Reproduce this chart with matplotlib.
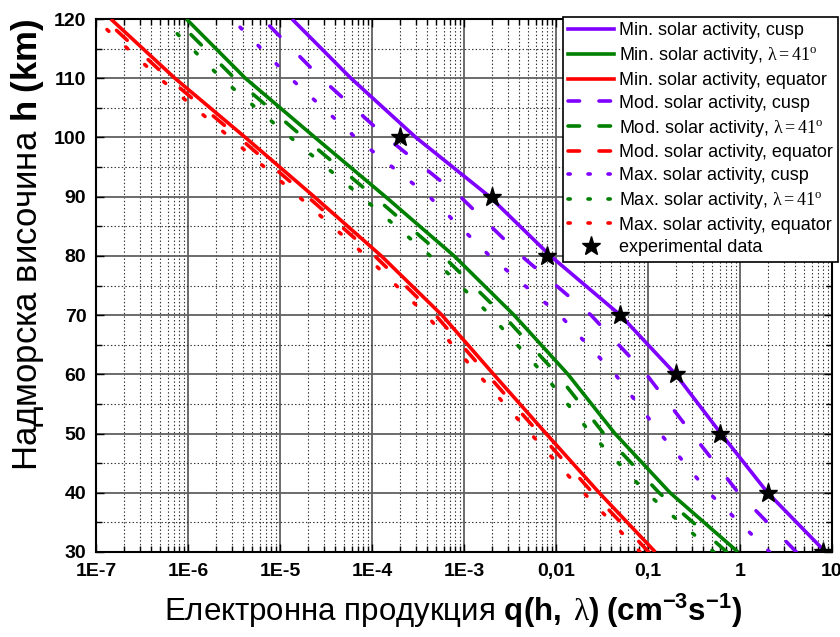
import matplotlib
matplotlib.use('Agg')
import matplotlib.pyplot as plt
from matplotlib.lines import Line2D
from matplotlib.ticker import MultipleLocator, LogLocator, NullFormatter

plt.rcParams['font.family'] = ['Liberation Sans', 'DejaVu Sans']
plt.rcParams['mathtext.fontset'] = 'custom'
plt.rcParams['mathtext.rm'] = 'Liberation Serif'
plt.rcParams['mathtext.it'] = 'Liberation Serif:italic'
plt.rcParams['mathtext.bf'] = 'Liberation Sans:bold'
plt.rcParams['mathtext.sf'] = 'Liberation Sans'
plt.rcParams['lines.scale_dashes'] = False

# ---------------- data ----------------
heights = [30, 40, 50, 60, 70, 80, 90, 100, 110, 120]

min_cusp = [8.5, 2.0, 0.62, 0.20, 0.050, 8.7e-3, 1.9e-3, 3.0e-4, 5.9e-5, 1.35e-5]
min_lat41 = [0.95, 0.174, 0.0437, 0.0135, 3.5e-3, 7.8e-4, 1.4e-4, 2.4e-5, 4.2e-6, 9.6e-7]
min_equator = [0.12, 0.0295, 7.8e-3, 2.1e-3, 5.75e-4, 1.26e-4, 2.35e-5, 4.2e-6, 7.2e-7, 1.45e-7]

mod_cusp = [4.1, 0.96, 0.30, 0.096, 0.024, 4.2e-3, 9.1e-4, 1.44e-4, 2.8e-5, 6.5e-6]
mod_lat41 = [0.72, 0.132, 0.033, 0.0103, 2.66e-3, 5.9e-4, 1.06e-4, 1.8e-5, 3.2e-6, 7.3e-7]
mod_equator = [0.102, 0.025, 6.6e-3, 1.79e-3, 4.9e-4, 1.07e-4, 2.0e-5, 3.57e-6, 6.1e-7, 1.23e-7]

max_cusp = [2.1, 0.46, 0.136, 0.044, 0.011, 1.9e-3, 4.2e-4, 6.6e-5, 1.3e-5, 3.0e-6]
max_lat41 = [0.52, 0.096, 0.024, 7.4e-3, 1.93e-3, 4.3e-4, 7.7e-5, 1.3e-5, 2.3e-6, 5.3e-7]
max_equator = [0.082, 0.020, 5.3e-3, 1.43e-3, 3.9e-4, 8.6e-5, 1.6e-5, 2.86e-6, 4.9e-7, 9.9e-8]

exp_h = [30, 40, 50, 60, 70, 80, 90, 100]
exp_q = [8.0, 2.0, 0.6, 0.2, 0.05, 8e-3, 2e-3, 2e-4]

x_ticks = [1e-7, 1e-6, 1e-5, 1e-4, 1e-3, 1e-2, 1e-1, 1, 10]
x_ticklabels = ['1E-7', '1E-6', '1E-5', '1E-4', '1E-3', '0,01', '0,1', '1', '10']
y_ticks = [30, 40, 50, 60, 70, 80, 90, 100, 110, 120]

lam = r'$\mathrm{λ{=}41^o}$'
labels = ['Min. solar activity, cusp', 'Min. solar activity, ' + lam, 'Min. solar activity, equator',
          'Mod. solar activity, cusp', 'Mod. solar activity, ' + lam, 'Mod. solar activity, equator',
          'Max. solar activity, cusp', 'Max. solar activity, ' + lam, 'Max. solar activity, equator',
          'experimental data']

# ---------------- style ----------------
PURPLE = '#7f00ff'
GREEN = '#008000'
RED = '#ff0000'
LW = 2.6
DASH = (0, (10.5, 20.5))
DOT = (0, (1.8, 16.7))
LEG_DASH = (0, (8.3, 14.0))
LEG_DOT = (0, (1.6, 12.8))

fig = plt.figure(figsize=(8.4, 6.37), dpi=100)
ax = fig.add_axes([96 / 840, 1 - 552 / 637, (832 - 96) / 840, (552 - 19) / 637])

series = [
    (min_cusp, PURPLE, '-'), (min_lat41, GREEN, '-'), (min_equator, RED, '-'),
    (mod_cusp, PURPLE, DASH), (mod_lat41, GREEN, DASH), (mod_equator, RED, DASH),
    (max_cusp, PURPLE, DOT), (max_lat41, GREEN, DOT), (max_equator, RED, DOT),
]
for vals, col, ls in series:
    ax.plot(vals, heights, color=col, lw=LW, ls=ls, dash_capstyle='round',
            solid_capstyle='butt', zorder=3)

ax.plot(exp_q, exp_h, ls='none', marker='*', ms=14, color='black', zorder=4)

ax.set_xscale('log')
ax.set_xlim(1e-7, 10)
ax.set_ylim(30, 120)
ax.set_xticks(x_ticks)
ax.set_xticklabels(x_ticklabels)
ax.xaxis.set_minor_locator(LogLocator(base=10, subs=range(2, 10), numticks=50))
ax.xaxis.set_minor_formatter(NullFormatter())
ax.set_yticks(y_ticks)
ax.yaxis.set_minor_locator(MultipleLocator(5))

ax.set_axisbelow(True)
ax.grid(True, which='major', color='#606060', lw=1.3, ls='-')
ax.grid(True, which='minor', color='#303030', lw=0.8, ls=(0, (1, 1.6)))

ax.tick_params(which='both', direction='in', top=True, right=True, width=1.0)
ax.tick_params(which='major', length=6)
ax.tick_params(which='minor', length=4)
ax.tick_params(axis='x', which='major', pad=8)
ax.tick_params(axis='y', which='major', pad=7)
for t in ax.get_xticklabels() + ax.get_yticklabels():
    t.set_fontweight('bold')
    t.set_fontsize(14)
for s in ax.spines.values():
    s.set_linewidth(1.5)
    s.set_color('black')

# legend
handles = [
    Line2D([], [], color=PURPLE, lw=LW, ls='-'),
    Line2D([], [], color=GREEN, lw=LW, ls='-'),
    Line2D([], [], color=RED, lw=LW, ls='-'),
    Line2D([], [], color=PURPLE, lw=LW, ls=LEG_DASH, dash_capstyle='round'),
    Line2D([], [], color=GREEN, lw=LW, ls=LEG_DASH, dash_capstyle='round'),
    Line2D([], [], color=RED, lw=LW, ls=LEG_DASH, dash_capstyle='round'),
    Line2D([], [], color=PURPLE, lw=LW, ls=LEG_DOT, dash_capstyle='round'),
    Line2D([], [], color=GREEN, lw=LW, ls=LEG_DOT, dash_capstyle='round'),
    Line2D([], [], color=RED, lw=LW, ls=LEG_DOT, dash_capstyle='round'),
    Line2D([], [], ls='none', marker='*', ms=14, color='black'),
]
leg = ax.legend(handles, labels, loc='upper left',
                bbox_to_anchor=(563 / 840, 1 - 17 / 637), bbox_transform=fig.transFigure,
                borderaxespad=0, fontsize=13, handlelength=2.5, handletextpad=0.3,
                labelspacing=0.32, borderpad=0.3, frameon=True, fancybox=False,
                framealpha=1, edgecolor='black')
leg.get_frame().set_linewidth(1.2)
leg.set_zorder(10)

fig.text(453 / 840, 1 - 611 / 637,
         r'Електронна продукция $\mathbf{q(h,}\ \mathrm{λ}\mathbf{)\ (cm^{-3}s^{-1})}$',
         ha='center', va='center', fontsize=22.5)
fig.text(28 / 840, 1 - 245 / 637, r'Надморска височина $\mathbf{h\ (km)}$',
         rotation=90, ha='center', va='center', fontsize=25)

fig.savefig('out.png', dpi=100)
